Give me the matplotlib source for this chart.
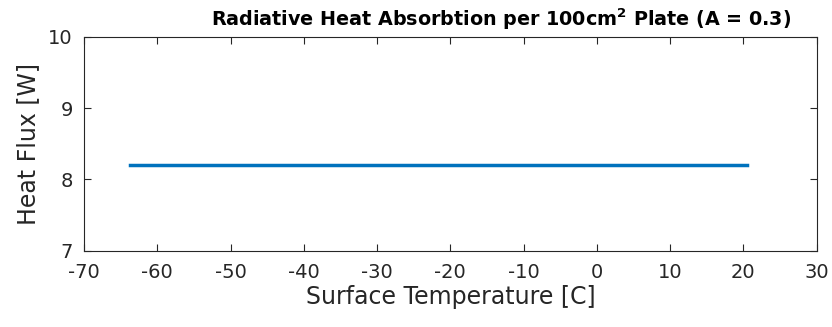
import matplotlib
matplotlib.use("Agg")
import matplotlib.pyplot as plt

# surface temperature [C] and absorbed radiative heat [W]
temps = [-63.7, 20.5]
flux = [8.21, 8.21]
xticks = list(range(-70, 31, 10))
yticks = [7, 8, 9, 10]

plt.rcParams['font.family'] = ['DejaVu Sans']
plt.rcParams['axes.unicode_minus'] = False
grey = "#262626"

fig = plt.figure(figsize=(8.32, 3.27), dpi=100)
ax = fig.add_axes([84/832, 1 - 250.7/327, (816.7 - 84)/832, (250.7 - 37)/327])
ax.plot(temps, flux, color="#0072bd", lw=2.5)
ax.set_xlim(-70, 30); ax.set_ylim(7, 10)
ax.set_xticks(xticks); ax.set_yticks(yticks)
ax.tick_params(direction="in", top=True, right=True, labelsize=14, colors=grey,
               length=5, width=0.8)
ax.tick_params(axis="x", pad=9)
ax.tick_params(axis="y", pad=8)
for s in ax.spines.values():
    s.set_color(grey); s.set_linewidth(0.8)
ax.set_xlabel("Surface Temperature [C]", fontsize=17, color=grey, labelpad=2)
ax.set_ylabel("Heat Flux [W]", fontsize=17, color=grey, labelpad=6)
t = ax.set_title(r"Radiative Heat Absorbtion per 100cm$^\mathbf{2}$ Plate (A = 0.3)",
                 fontsize=13.8, fontweight="bold", color="black", pad=8)
t.set_x(0.569)
fig.savefig("out.png", dpi=100)
